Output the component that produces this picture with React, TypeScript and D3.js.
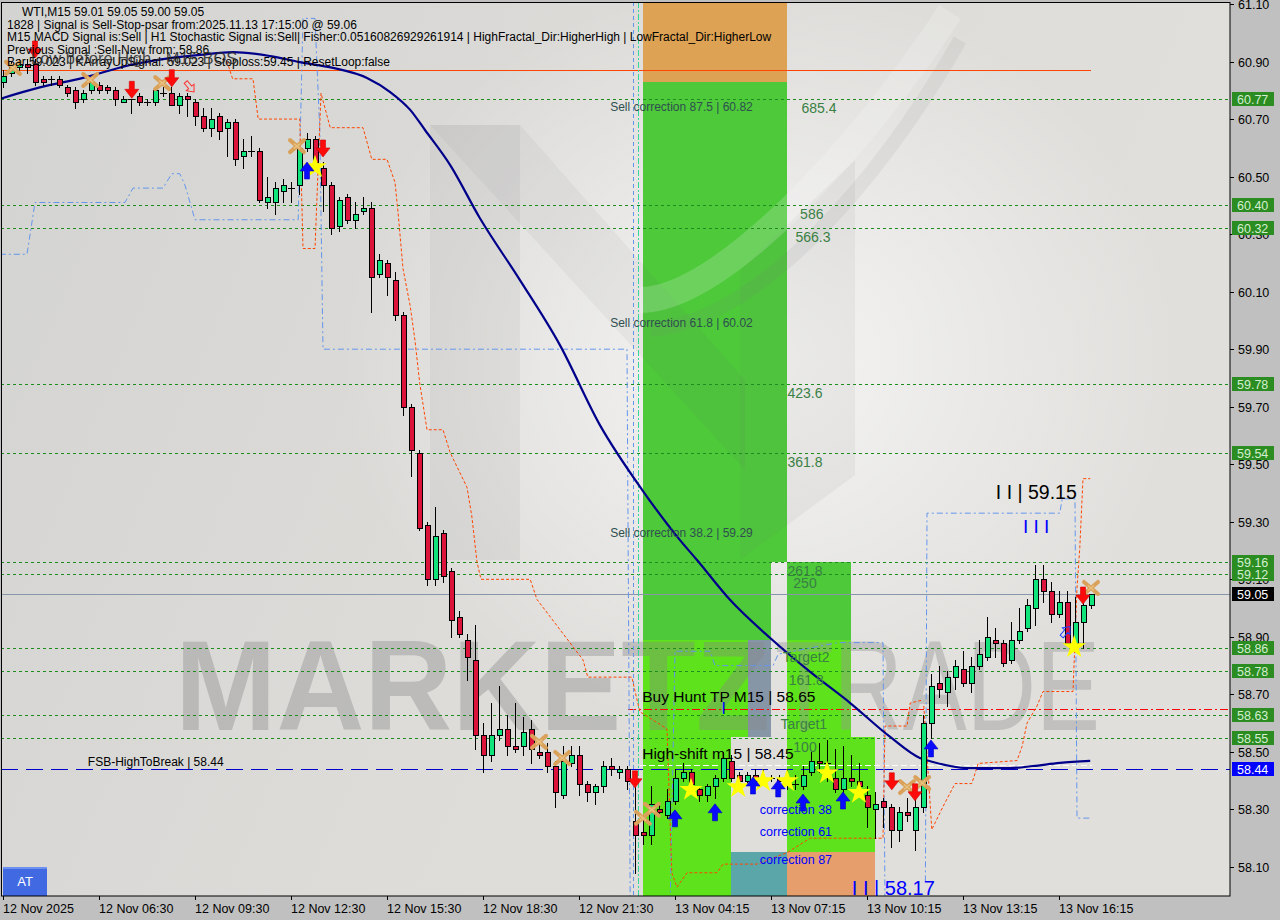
import React, { useRef, useEffect } from 'react';
import * as d3 from 'd3';

// ---- bars (15 min, index 0 = 12 Nov 2025 start) ----
const opens = [
  60.83, 60.86, 60.88, 60.89, 60.89, 60.84, 60.84, 60.84, 60.81, 60.80,
  60.77, 60.80, 60.82, 60.81, 60.80, 60.76, 60.77, 60.78, 60.76, 60.76,
  60.79, 60.79, 60.75, 60.78, 60.76, 60.71, 60.67, 60.71, 60.67, 60.69,
  60.57, 60.59, 60.59, 60.41, 60.41, 60.45, 60.46, 60.47, 60.60, 60.63,
  60.53, 60.47, 60.33, 60.43, 60.35, 60.38, 60.39, 60.16, 60.20, 60.14,
  60.02, 59.70, 59.54, 59.29, 59.10, 59.26, 59.13, 58.97, 58.89, 58.82,
  58.56, 58.49, 58.56, 58.58, 58.52, 58.52, 58.58, 58.50, 58.50, 58.45,
  58.35, 58.46, 58.49, 58.39, 58.36, 58.38, 58.45, 58.43, 58.44, 58.26,
  58.22, 58.21, 58.30, 58.28, 58.33, 58.41, 58.43, 58.37, 58.35, 58.38,
  58.41, 58.47, 58.42, 58.40, 58.42, 58.41, 58.41, 58.41, 58.40, 58.39,
  58.38, 58.43, 58.47, 58.46, 58.41, 58.37, 58.41, 58.40, 58.35, 58.30,
  58.33, 58.31, 58.23, 58.29, 58.23, 58.31, 58.60, 58.74, 58.71, 58.76,
  58.79, 58.74, 58.80, 58.83, 58.89, 58.88, 58.82, 58.89, 58.93, 59.00,
  59.10, 59.06, 58.98, 59.02, 58.88, 58.95, 59.01,
];
const highs = [
  60.87, 60.90, 60.91, 60.91, 60.91, 60.85, 60.85, 60.85, 60.82, 60.81,
  60.80, 60.84, 60.83, 60.82, 60.81, 60.78, 60.77, 60.79, 60.77, 60.81,
  60.81, 60.81, 60.79, 60.79, 60.77, 60.74, 60.74, 60.72, 60.70, 60.70,
  60.63, 60.64, 60.60, 60.50, 60.48, 60.49, 60.48, 60.61, 60.65, 60.64,
  60.55, 60.48, 60.43, 60.44, 60.41, 60.43, 60.41, 60.23, 60.21, 60.17,
  60.03, 59.71, 59.55, 59.30, 59.35, 59.27, 59.14, 58.99, 58.91, 58.94,
  58.60, 58.67, 58.73, 58.63, 58.67, 58.62, 58.61, 58.53, 58.53, 58.47,
  58.52, 58.52, 58.52, 58.40, 58.39, 58.47, 58.48, 58.45, 58.45, 58.38,
  58.27, 58.38, 58.32, 58.37, 58.44, 58.46, 58.44, 58.38, 58.39, 58.42,
  58.50, 58.49, 58.43, 58.43, 58.44, 58.44, 58.42, 58.42, 58.44, 58.42,
  58.45, 58.50, 58.53, 58.54, 58.51, 58.52, 58.49, 58.46, 58.38, 58.36,
  58.34, 58.32, 58.31, 58.34, 58.36, 58.63, 58.77, 58.80, 58.78, 58.82,
  58.85, 58.83, 58.89, 58.97, 58.93, 58.89, 58.95, 59.00, 59.03, 59.15,
  59.15, 59.09, 59.06, 59.06, 59.04, 59.02, 59.05,
];
const lows = [
  60.81, 60.85, 60.87, 60.86, 60.82, 60.82, 60.82, 60.81, 60.78, 60.74,
  60.76, 60.79, 60.79, 60.79, 60.75, 60.76, 60.72, 60.75, 60.75, 60.75,
  60.78, 60.75, 60.72, 60.71, 60.68, 60.66, 60.64, 60.63, 60.57, 60.54,
  60.53, 60.57, 60.41, 60.39, 60.37, 60.41, 60.41, 60.44, 60.59, 60.54,
  60.38, 60.30, 60.31, 60.34, 60.32, 60.37, 60.03, 60.15, 60.09, 60.00,
  59.67, 59.46, 59.27, 59.08, 59.08, 59.09, 58.90, 58.90, 58.75, 58.51,
  58.43, 58.47, 58.54, 58.49, 58.50, 58.49, 58.46, 58.48, 58.43, 58.31,
  58.34, 58.45, 58.35, 58.33, 58.32, 58.36, 58.42, 58.41, 58.37, 58.08,
  58.18, 58.18, 58.28, 58.27, 58.32, 58.40, 58.38, 58.33, 58.33, 58.34,
  58.40, 58.40, 58.39, 58.39, 58.39, 58.39, 58.40, 58.37, 58.37, 58.37,
  58.37, 58.42, 58.43, 58.40, 58.36, 58.36, 58.38, 58.37, 58.24, 58.20,
  58.24, 58.17, 58.19, 58.26, 58.16, 58.29, 58.55, 58.69, 58.66, 58.72,
  58.73, 58.71, 58.79, 58.82, 58.83, 58.80, 58.81, 58.88, 58.92, 58.94,
  59.02, 58.95, 58.97, 58.87, 58.87, 58.86, 59.00,
];
const closes = [
  60.85, 60.88, 60.89, 60.88, 60.83, 60.83, 60.84, 60.82, 60.79, 60.76,
  60.79, 60.83, 60.80, 60.80, 60.77, 60.77, 60.77, 60.76, 60.76, 60.80,
  60.79, 60.75, 60.78, 60.77, 60.71, 60.67, 60.70, 60.66, 60.69, 60.56,
  60.59, 60.59, 60.42, 60.43, 60.46, 60.47, 60.46, 60.60, 60.63, 60.55,
  60.47, 60.32, 60.42, 60.35, 60.37, 60.39, 60.15, 60.21, 60.15, 60.02,
  59.70, 59.55, 59.28, 59.10, 59.25, 59.11, 58.96, 58.91, 58.83, 58.56,
  58.49, 58.56, 58.58, 58.52, 58.51, 58.57, 58.51, 58.49, 58.45, 58.36,
  58.47, 58.49, 58.39, 58.36, 58.38, 58.45, 58.44, 58.44, 58.40, 58.21,
  58.21, 58.32, 58.29, 58.33, 58.41, 58.43, 58.39, 58.35, 58.38, 58.41,
  58.48, 58.41, 58.40, 58.42, 58.40, 58.41, 58.41, 58.40, 58.40, 58.39,
  58.42, 58.47, 58.46, 58.46, 58.37, 58.41, 58.40, 58.38, 58.31, 58.32,
  58.31, 58.23, 58.29, 58.28, 58.31, 58.60, 58.73, 58.72, 58.76, 58.80,
  58.74, 58.80, 58.84, 58.90, 58.88, 58.81, 58.89, 58.92, 59.01, 59.10,
  59.06, 58.98, 59.02, 58.88, 58.95, 59.01, 59.05,
];

const timeTickBars = [0, 12, 24, 36, 48, 60, 72, 84, 96, 108, 120, 132];
const timeLabels = [
  '12 Nov 2025', '12 Nov 06:30', '12 Nov 09:30', '12 Nov 12:30', '12 Nov 15:30', '12 Nov 18:30',
  '12 Nov 21:30', '13 Nov 04:15', '13 Nov 07:15', '13 Nov 10:15', '13 Nov 13:15', '13 Nov 16:15',
];
const priceTicks = [58.1, 58.3, 58.5, 58.7, 58.9, 59.1, 59.3, 59.5, 59.7, 59.9, 60.1, 60.3, 60.5, 60.7, 60.9, 61.1];

// ---- levels ----
const levelPrices = [60.77, 60.40, 60.32, 59.78, 59.54, 59.16, 59.12, 58.86, 58.78, 58.63, 58.55];
const lastPrice = 59.05;
const fsbPrice = 58.44;
const huntPrice = 58.65;
const shiftPrice = 58.45;
const topLinePrice = 60.87;

// ---- indicator lines [bar, price] ----
const maLine: [number, number][] = [
  [-0.4, 60.77], [4.6, 60.81], [10, 60.843], [15.9, 60.888], [20.9, 60.912], [24.6, 60.923],
  [28.75, 60.933], [33.4, 60.919], [37.1, 60.898], [41.25, 60.878], [45.5, 60.843], [48.4, 60.794],
  [50.9, 60.732], [52.75, 60.662], [55.9, 60.54], [59.6, 60.356], [64.6, 60.141], [69.6, 59.915],
  [74.6, 59.637], [80, 59.407], [84.6, 59.237], [86.75, 59.167], [90.9, 59.028], [95.9, 58.896],
  [100.9, 58.778], [105.9, 58.67], [110.9, 58.552], [114.6, 58.479], [116.25, 58.465],
  [120.5, 58.444], [125.9, 58.444], [128.75, 58.451], [132.1, 58.462], [135.9, 58.469],
];
const stopLineA: [number, number][] = [
  [28, 60.90], [28.7, 60.84], [31.25, 60.84], [31.9, 60.70], [37.1, 60.70], [37.5, 60.25], [39, 60.25],
  [39.75, 60.79], [40.9, 60.67], [45, 60.67], [46.1, 60.56], [48, 60.56], [49, 60.48], [49.4, 60.37],
  [50, 60.18], [50.9, 60.05], [51.5, 59.93], [52.1, 59.78], [53, 59.62], [55, 59.62], [55.9, 59.54],
  [58, 59.42], [58.6, 59.32], [59.25, 59.16], [59.75, 59.10], [65.9, 59.10], [66.75, 59.03],
  [72.5, 58.82], [73.1, 58.76], [78.6, 58.76], [79.6, 58.64], [83, 58.58], [83.6, 58.08],
  [84.25, 58.03], [85.5, 58.08], [89.25, 58.08], [90, 58.11], [94.25, 58.11], [98, 58.15],
  [100.9, 58.20], [110, 58.20], [110.25, 58.59], [113, 58.59], [113.4, 58.67], [114.9, 58.68],
];
const stopLineB: [number, number][] = [
  [115.1, 58.66], [116.1, 58.23], [117.5, 58.31], [119, 58.39], [121.1, 58.39], [121.9, 58.46],
  [126.75, 58.47], [127.4, 58.52], [128, 58.60], [129.25, 58.66], [130, 58.71], [133.75, 58.71],
  [134.25, 59.07], [134.6, 59.21], [135, 59.45], [135.9, 59.45],
];
const bandA: [number, number][] = [
  [-0.4, 60.23], [3, 60.23], [4, 60.41], [15.25, 60.41], [16.25, 60.46], [20, 60.46], [21.1, 60.51],
  [22.1, 60.51], [22.75, 60.47], [24, 60.35], [36.9, 60.35], [37.5, 61.05], [39, 61.05], [39.6, 60.66],
  [40, 59.90], [78, 59.90], [78.4, 57.98],
];
const bandB: [number, number][] = [
  [83.4, 57.98], [84, 58.85], [88.4, 58.85], [89, 58.80], [96.25, 58.80], [96.9, 58.84],
  [104.4, 58.88], [110, 58.88], [110.25, 57.98],
];
const bandC: [number, number][] = [
  [115.3, 58.05], [115.5, 59.33], [132.1, 59.33], [132.4, 59.38], [134, 59.38], [134.25, 58.27], [135.9, 58.27],
];
const sessionBars = [78.75, 79.4];

// ---- zones [bar0, bar1, priceLow, priceHigh, kind] ----
const zones: [number, number, number, number, string][] = [
  [80, 98, 60.829, 61.2, 'cap'],
  [80, 98, 59.16, 60.829, 'green'],
  [80, 96, 58.889, 59.16, 'green'],
  [80, 93.1, 58.552, 58.889, 'lime'],
  [93.1, 96, 58.552, 58.889, 'slate'],
  [80, 91, 57.9, 58.552, 'lime'],
  [91, 98, 57.9, 58.153, 'teal'],
  [98, 106, 58.889, 59.16, 'green'],
  [98, 106, 58.552, 58.889, 'lime'],
  [98, 109, 58.153, 58.552, 'lime'],
  [98, 109, 57.9, 58.153, 'peach'],
];
const zoneFill: Record<string, string> = {
  cap: '#dda253', green: '#4dc93a', lime: '#5ee21c', slate: '#8796a6', teal: '#5ba6a9', peach: '#e59e6c',
};

// ---- markers [bar, price] ----
const downArrows: [number, number][] = [
  [4, 60.94], [16.1, 60.80], [21.1, 60.84], [40, 60.596], [79, 58.403], [111.1, 58.396], [114, 58.358], [135, 59.042],
];
const upArrows: [number, number][] = [
  [38, 60.523], [84, 58.271], [89, 58.292], [93.75, 58.385], [96.9, 58.375], [100, 58.326], [105, 58.333], [116, 58.514],
];
const stars: [number, number][] = [
  [39, 60.533], [86, 58.368], [91.9, 58.378], [95, 58.399], [98, 58.399], [103, 58.427], [107, 58.358], [133.9, 58.865],
];
const crosses: [number, number][] = [
  [1.25, 60.878], [10.9, 60.836], [19.9, 60.825], [36.75, 60.606], [67, 58.535], [69.9, 58.479],
  [80, 58.271], [81.1, 58.299], [113, 58.378], [114.9, 58.392], [136, 59.07],
];

// ---- texts ----
const headerLines = [
  '1828 | Signal is Sell-Stop-psar from:2025.11.13 17:15:00 @ 59.06',
  'M15 MACD Signal is:Sell | H1 Stochastic Signal is:Sell| Fisher:0.05160826929261914 | HighFractal_Dir:HigherHigh | LowFractal_Dir:HigherLow',
  'Previous Signal :Sell-New from: 58.86',
  'Bar:59.023 | KArrayUpSignal: 59.023 | Stoploss:59.45 | ResetLoop:false',
];
const sellCorrections: [string, number][] = [
  ['Sell correction 87.5 | 60.82', 60.77],
  ['Sell correction 61.8 | 60.02', 60.02],
  ['Sell correction 38.2 | 59.29', 59.29],
];
const fibLabels: [string, number, number][] = [
  ['685.4', 102, 60.77], ['586', 101.1, 60.40], ['566.3', 101.25, 60.32], ['423.6', 100.25, 59.78],
  ['361.8', 100.25, 59.54], ['261.8', 100.25, 59.16], ['250', 100.25, 59.12], ['Target2', 100.4, 58.86],
  ['161.8', 100.4, 58.78], ['Target1', 100.1, 58.63], ['100', 100.25, 58.55],
];
const correctionLabels: [string, number][] = [
  ['correction 38', 58.285], ['correction 61', 58.208], ['correction 87', 58.11],
];

const FONT = "'Liberation Sans', Arial, sans-serif";

function drawChart(el: SVGSVGElement) {
  const svg = d3.select(el);
  svg.selectAll('*').remove();

  const x = d3.scaleLinear().domain([0, 136]).range([3, 1091]);
  const y = d3.scaleLinear().domain([58.1, 61.1]).range([867, 4]);
  const X = (i: number) => Math.round(x(i));
  const Y = (p: number) => Math.round(y(p));
  const right = 1230;
  const bottom = 896;

  const defs = svg.append('defs');
  defs.append('clipPath').attr('id', 'plotClip')
    .append('rect').attr('x', 1).attr('y', 2).attr('width', right - 1).attr('height', bottom - 2);
  const bg = defs.append('linearGradient').attr('id', 'bgGrad')
    .attr('x1', 0).attr('x2', 1).attr('y1', 0).attr('y2', 0.3);
  bg.append('stop').attr('offset', 0).attr('stop-color', '#d3d3d1');
  bg.append('stop').attr('offset', 0.55).attr('stop-color', '#dddcd9');
  bg.append('stop').attr('offset', 1).attr('stop-color', '#e0dfdc');
  const hl = defs.append('radialGradient').attr('id', 'hlGrad');
  hl.append('stop').attr('offset', 0).attr('stop-color', '#ffffff').attr('stop-opacity', 0.7);
  hl.append('stop').attr('offset', 1).attr('stop-color', '#ffffff').attr('stop-opacity', 0);

  // frame areas
  svg.append('rect').attr('width', 1280).attr('height', 920).attr('fill', '#c0c0c0');
  svg.append('rect').attr('x', 1).attr('y', 2).attr('width', right - 1).attr('height', bottom - 2)
    .attr('fill', 'url(#bgGrad)');

  const g = svg.append('g').attr('clip-path', 'url(#plotClip)');

  // light logo area
  g.append('ellipse').attr('cx', 760).attr('cy', 360).attr('rx', 420).attr('ry', 380).attr('fill', 'url(#hlGrad)');

  // zones
  g.append('g').selectAll('rect').data(zones).join('rect')
    .attr('x', d => X(d[0])).attr('width', d => X(d[1]) - X(d[0]))
    .attr('y', d => Y(d[3])).attr('height', d => Y(d[2]) - Y(d[3]))
    .attr('fill', d => zoneFill[d[4]]);

  // logo (semi transparent)
  const logo = g.append('g');
  logo.append('path')
    .attr('d', 'M430,125 L520,125 L520,560 L430,560 Z')
    .attr('fill', 'rgba(120,120,120,0.09)');
  logo.append('path')
    .attr('d', 'M430,125 L520,125 L745,380 L745,470 Z')
    .attr('fill', 'rgba(120,120,120,0.07)');
  logo.append('path')
    .attr('d', 'M740,270 L855,160 L855,475 L740,560 Z')
    .attr('fill', 'rgba(120,120,120,0.08)');
  logo.append('path')
    .attr('d', 'M640,300 C720,300 860,150 950,12')
    .attr('fill', 'none').attr('stroke', 'rgba(255,255,255,0.18)').attr('stroke-width', 26);
  logo.append('path')
    .attr('d', 'M650,330 C760,320 880,180 960,40')
    .attr('fill', 'none').attr('stroke', 'rgba(130,130,130,0.10)').attr('stroke-width', 14);

  // watermark
  g.append('text').attr('x', 175).attr('y', 730)
    .attr('font-family', FONT).attr('font-weight', 'bold').attr('font-size', 128)
    .attr('textLength', 595).attr('lengthAdjust', 'spacingAndGlyphs')
    .attr('fill', 'rgba(135,135,135,0.38)').text('MARKETZ');
  g.append('text').attr('x', 775).attr('y', 730)
    .attr('font-family', FONT).attr('font-size', 128)
    .attr('textLength', 325).attr('lengthAdjust', 'spacingAndGlyphs')
    .attr('fill', 'rgba(150,150,150,0.42)').text('TRADE');

  // level lines
  g.append('g').selectAll('line').data(levelPrices).join('line')
    .attr('x1', 1).attr('x2', right)
    .attr('y1', d => Y(d) + 0.5).attr('y2', d => Y(d) + 0.5)
    .attr('stroke', '#1e8c1e').attr('stroke-dasharray', '3,3');

  g.append('line').attr('x1', 1).attr('x2', x(136)).attr('y1', Y(topLinePrice) + 0.5).attr('y2', Y(topLinePrice) + 0.5)
    .attr('stroke', '#ff4500');
  g.append('line').attr('x1', 1).attr('x2', right).attr('y1', Y(lastPrice) + 0.5).attr('y2', Y(lastPrice) + 0.5)
    .attr('stroke', '#8796a8');
  g.append('line').attr('x1', 1).attr('x2', right).attr('y1', Y(fsbPrice) + 0.5).attr('y2', Y(fsbPrice) + 0.5)
    .attr('stroke', '#0000cd').attr('stroke-dasharray', '17,8');
  g.append('line').attr('x1', X(78.1)).attr('x2', right).attr('y1', Y(huntPrice) + 0.5).attr('y2', Y(huntPrice) + 0.5)
    .attr('stroke', '#ff0000').attr('stroke-width', 1.2).attr('stroke-dasharray', '8,3,2,3');
  g.append('line').attr('x1', X(79.6)).attr('x2', X(136.1)).attr('y1', Y(shiftPrice) - 0.5).attr('y2', Y(shiftPrice) - 0.5)
    .attr('stroke', '#ffffff').attr('stroke-dasharray', '6,3');

  // session separators
  g.append('line').attr('x1', X(sessionBars[0]) + 0.5).attr('x2', X(sessionBars[0]) + 0.5).attr('y1', 2).attr('y2', bottom)
    .attr('stroke', '#6495ed').attr('stroke-dasharray', '4,3');
  g.append('line').attr('x1', X(sessionBars[1]) + 0.5).attr('x2', X(sessionBars[1]) + 0.5).attr('y1', 2).attr('y2', bottom)
    .attr('stroke', '#34d69a').attr('stroke-dasharray', '6,2,2,2');

  const line = d3.line<[number, number]>().x(d => x(d[0])).y(d => y(d[1]));

  [bandA, bandB, bandC].forEach(pts => {
    g.append('path').attr('d', line(pts)).attr('fill', 'none')
      .attr('stroke', '#6495ed').attr('stroke-dasharray', '6,3,2,3');
  });
  [stopLineA, stopLineB].forEach(pts => {
    g.append('path').attr('d', line(pts)).attr('fill', 'none')
      .attr('stroke', '#ff4500').attr('stroke-dasharray', '3,2');
  });

  // moving average
  g.append('path')
    .attr('d', d3.line<[number, number]>().x(d => x(d[0])).y(d => y(d[1])).curve(d3.curveMonotoneX)(maLine))
    .attr('fill', 'none').attr('stroke', '#00008b').attr('stroke-width', 2.2);

  // candles
  const idx = d3.range(opens.length);
  const cg = g.append('g').attr('shape-rendering', 'crispEdges');
  cg.selectAll('line.wick').data(idx).join('line').attr('class', 'wick')
    .attr('x1', i => X(i) + 0.5).attr('x2', i => X(i) + 0.5)
    .attr('y1', i => Y(highs[i])).attr('y2', i => Y(lows[i]) + 1)
    .attr('stroke', '#000');
  const bodies = idx.filter(i => Math.abs(opens[i] - closes[i]) >= 0.004);
  const dojis = idx.filter(i => Math.abs(opens[i] - closes[i]) < 0.004);
  cg.selectAll('rect.body').data(bodies).join('rect').attr('class', 'body')
    .attr('x', i => X(i) - 2).attr('width', 5)
    .attr('y', i => Y(Math.max(opens[i], closes[i])) + 0.5)
    .attr('height', i => Math.max(1, Y(Math.min(opens[i], closes[i])) - Y(Math.max(opens[i], closes[i]))))
    .attr('fill', i => (closes[i] > opens[i] ? '#12e47c' : '#dc143c'))
    .attr('stroke', '#000');
  cg.selectAll('line.doji').data(dojis).join('line').attr('class', 'doji')
    .attr('x1', i => X(i) - 3).attr('x2', i => X(i) + 4)
    .attr('y1', i => Y(closes[i]) + 0.5).attr('y2', i => Y(closes[i]) + 0.5)
    .attr('stroke', '#000');

  // markers
  const mg = g.append('g');
  mg.selectAll('path.star').data(stars).join('path').attr('class', 'star')
    .attr('transform', d => `translate(${x(d[0])},${y(d[1])})`)
    .attr('d', d3.symbol().type(d3.symbolStar).size(170)())
    .attr('fill', '#ffff00');
  const crossG = mg.selectAll('g.cross').data(crosses).join('g').attr('class', 'cross')
    .attr('transform', d => `translate(${x(d[0])},${y(d[1])})`);
  crossG.append('path').attr('d', 'M-7,-6 L7,6 M-7,6 L7,-6')
    .attr('stroke', '#d9a159').attr('stroke-width', 4).attr('stroke-linecap', 'round');
  crossG.append('path').attr('d', 'M-3,-2.5 L3,2.5 M-3,2.5 L3,-2.5')
    .attr('stroke', '#e8c080').attr('stroke-width', 1.5);
  mg.selectAll('path.down').data(downArrows).join('path').attr('class', 'down')
    .attr('transform', d => `translate(${x(d[0])},${y(d[1])})`)
    .attr('d', 'M-2.5,-9 L2.5,-9 L2.5,-1 L7,-1 L0,8 L-7,-1 L-2.5,-1 Z')
    .attr('fill', '#ff0a0a').attr('stroke', '#d00000').attr('stroke-width', 0.6);
  mg.selectAll('path.up').data(upArrows).join('path').attr('class', 'up')
    .attr('transform', d => `translate(${x(d[0])},${y(d[1])})`)
    .attr('d', 'M-2.5,9 L2.5,9 L2.5,1 L7,1 L0,-8 L-7,1 L-2.5,1 Z')
    .attr('fill', '#0a0aff').attr('stroke', '#0000c0').attr('stroke-width', 0.6);
  // small outlined sell / buy markers
  mg.append('path').attr('transform', `translate(${x(23.4)},${y(60.81)}) rotate(-40)`)
    .attr('d', 'M-2,-7 L2,-7 L2,0 L5,0 L0,6 L-5,0 L-2,0 Z')
    .attr('fill', 'none').attr('stroke', '#ff3030').attr('stroke-width', 1);
  mg.append('path').attr('transform', `translate(${x(132.9)},${y(58.92)}) rotate(40)`)
    .attr('d', 'M-2,7 L2,7 L2,0 L5,0 L0,-6 L-5,0 L-2,0 Z')
    .attr('fill', 'none').attr('stroke', '#2040ff').attr('stroke-width', 1);

  // chart texts
  const tg = g.append('g').attr('font-family', FONT);
  tg.selectAll('text.sc').data(sellCorrections).join('text').attr('class', 'sc')
    .attr('x', x(75.9)).attr('y', d => y(d[1]) + 12)
    .attr('font-size', 12).attr('fill', '#2f4f4f').text(d => d[0]);
  tg.selectAll('text.fib').data(fibLabels).join('text').attr('class', 'fib')
    .attr('x', d => x(d[1])).attr('y', d => y(d[2]) + 14)
    .attr('text-anchor', 'middle').attr('font-size', 14).attr('fill', '#3a7f44').text(d => d[0]);
  tg.selectAll('text.corr').data(correctionLabels).join('text').attr('class', 'corr')
    .attr('x', x(94.6)).attr('y', d => y(d[1]))
    .attr('font-size', 12.5).attr('fill', '#0000ff').text(d => d[0]);

  tg.append('text').attr('x', x(79.9)).attr('y', y(huntPrice) - 7)
    .attr('font-size', 15.5).attr('fill', '#000').text('Buy Hunt TP M15 | 58.65');
  tg.append('text').attr('x', x(79.9)).attr('y', y(shiftPrice) - 7)
    .attr('font-size', 15.5).attr('fill', '#000').text('High-shift m15 | 58.45');
  tg.append('text').attr('x', x(10.6)).attr('y', y(fsbPrice) - 3)
    .attr('font-size', 12).attr('fill', '#000').text('FSB-HighToBreak | 58.44');
  tg.append('text').attr('x', x(89.8)).attr('y', y(58.63) - 1)
    .attr('font-size', 16).attr('fill', '#0000ff').text('I');
  tg.append('text').attr('x', x(106.1)).attr('y', y(58.17) + 48)
    .attr('font-size', 20).attr('fill', '#0000ff').text('I I | 58.17');
  tg.append('text').attr('x', x(124.1)).attr('y', y(59.15) - 66)
    .attr('font-size', 19.5).attr('fill', '#000').text('I I | 59.15');
  tg.append('text').attr('x', x(127.5)).attr('y', y(59.15) - 32)
    .attr('font-size', 19).attr('fill', '#0000ff').text('I I I');

  // header
  const hg = svg.append('g').attr('font-family', FONT).attr('font-size', 12).attr('fill', '#000');
  hg.append('text').attr('x', 22).attr('y', 16).text('WTI,M15  59.01 59.05 59.00 59.05');
  hg.selectAll('text.h').data(headerLines).join('text').attr('class', 'h')
    .attr('x', 7).attr('y', (d, i) => 29 + i * 12.3).text(d => d);
  svg.append('text').attr('x', 31).attr('y', 64).attr('font-family', FONT).attr('font-size', 16.5)
    .attr('fill', 'rgba(40,40,40,0.85)').text('Low before High - M15 BOS');

  // AT button
  svg.append('rect').attr('x', 3).attr('y', 867).attr('width', 44).attr('height', 29).attr('fill', '#4169e1');
  svg.append('rect').attr('x', 3).attr('y', 867).attr('width', 44).attr('height', 2).attr('fill', '#6d8ff0');
  svg.append('text').attr('x', 25).attr('y', 886).attr('text-anchor', 'middle')
    .attr('font-family', FONT).attr('font-size', 13).attr('fill', '#fff').text('AT');

  // frame
  svg.append('rect').attr('x', 1.5).attr('y', 2.5).attr('width', right - 1.5).attr('height', bottom - 2.5)
    .attr('fill', 'none').attr('stroke', '#000');

  // right axis
  const ag = svg.append('g').attr('font-family', FONT).attr('font-size', 12.5);
  ag.selectAll('line.pt').data(priceTicks).join('line').attr('class', 'pt')
    .attr('x1', right).attr('x2', right + 4).attr('y1', d => Y(d) + 0.5).attr('y2', d => Y(d) + 0.5)
    .attr('stroke', '#000');
  ag.selectAll('text.pt').data(priceTicks).join('text').attr('class', 'pt')
    .attr('x', right + 8).attr('y', d => Y(d) + 5).attr('fill', '#000').text(d => d.toFixed(2));

  const tagData: [number, string, string][] = levelPrices.map(p => [p, '#2b8c22', '#d3efcf'] as [number, string, string]);
  tagData.push([lastPrice, '#000000', '#ffffff']);
  tagData.push([fsbPrice, '#0000ff', '#ffffff']);
  const tags = ag.selectAll('g.tag').data(tagData).join('g').attr('class', 'tag')
    .attr('transform', d => `translate(${right + 2},${Y(d[0])})`);
  tags.append('rect').attr('x', 0).attr('y', -7).attr('width', 42).attr('height', 14).attr('fill', d => d[1]);
  tags.append('text').attr('x', 5).attr('y', 5).attr('fill', d => d[2]).text(d => d[0].toFixed(2));

  // bottom axis
  const bg2 = svg.append('g').attr('font-family', FONT).attr('font-size', 12.5);
  bg2.selectAll('line').data(timeTickBars).join('line')
    .attr('x1', i => X(i) + 0.5).attr('x2', i => X(i) + 0.5).attr('y1', bottom).attr('y2', bottom + 4)
    .attr('stroke', '#000');
  bg2.selectAll('text').data(timeTickBars).join('text')
    .attr('x', i => X(i)).attr('y', bottom + 17).attr('fill', '#000')
    .text((d, k) => timeLabels[k]);
}

export default function App() {
  const ref = useRef<SVGSVGElement>(null);
  useEffect(() => {
    if (ref.current) drawChart(ref.current);
  }, []);
  return (
    <div style={{ position: 'absolute', left: 0, top: 0 }}>
      <svg ref={ref} width={1280} height={920} style={{ display: 'block' }} />
    </div>
  );
}
